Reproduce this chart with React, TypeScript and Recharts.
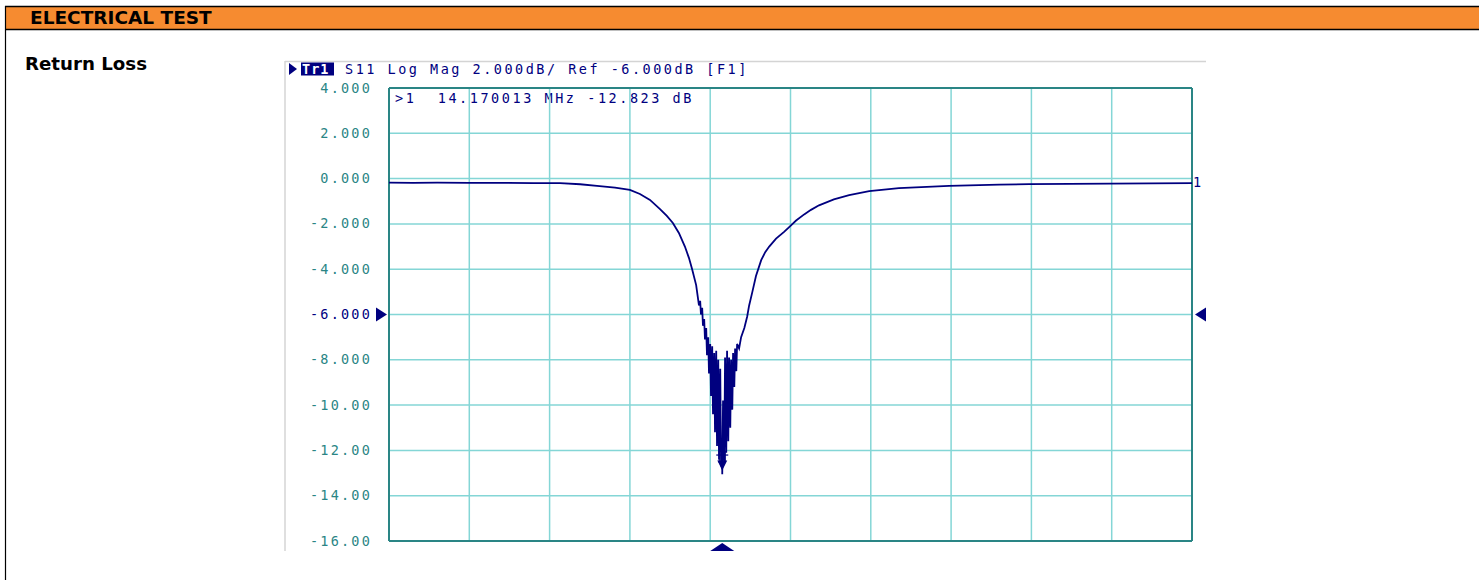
import React from "react";
import { LineChart, Line, XAxis, YAxis, CartesianGrid, ReferenceLine, ReferenceDot } from "recharts";

// ---- data ----
const freqMHz = [
  13.340, 13.400, 13.460, 13.540, 13.620, 13.700, 13.766, 13.816, 13.858, 13.903, 13.940, 13.965, 13.990,
  14.015, 14.032, 14.047, 14.062, 14.077, 14.087, 14.095, 14.105,
  14.112, 14.115, 14.117, 14.120, 14.122, 14.125, 14.127, 14.130, 14.132, 14.135, 14.137,
  14.140, 14.142, 14.145, 14.147, 14.150, 14.152, 14.155, 14.157, 14.160, 14.162,
  14.165, 14.167, 14.170, 14.170, 14.172, 14.175, 14.177, 14.180, 14.182, 14.185,
  14.187, 14.190, 14.192, 14.195, 14.197, 14.200, 14.202, 14.205, 14.207,
  14.212, 14.217, 14.225, 14.232, 14.237, 14.245, 14.254, 14.267, 14.277, 14.287, 14.304,
  14.324, 14.336, 14.354, 14.374, 14.391, 14.411, 14.448, 14.486, 14.536, 14.610, 14.735, 14.860,
  14.934, 15.136, 15.340,
];
const s11dB = [
  -0.18, -0.19, -0.18, -0.19, -0.19, -0.20, -0.20, -0.25, -0.32, -0.40, -0.50, -0.68, -0.94,
  -1.35, -1.65, -1.96, -2.40, -3.00, -3.50, -4.00, -4.70,
  -5.6, -5.4, -6.0, -5.7, -6.5, -6.2, -7.1, -6.6, -7.8, -7.0, -8.6,
  -7.3, -9.6, -7.4, -10.4, -7.7, -11.2, -7.6, -11.8, -8.0, -12.4,
  -8.4, -12.6, -12.82, -13.05, -9.8, -12.5, -7.9, -12.1, -7.6, -11.6,
  -7.9, -11.0, -8.0, -10.2, -7.7, -9.2, -7.5, -8.5, -7.3,
  -7.5, -7.0, -6.6, -6.1, -5.6, -5.0, -4.3, -3.6, -3.25, -3.0, -2.65,
  -2.35, -2.15, -1.85, -1.58, -1.38, -1.18, -0.92, -0.73, -0.55, -0.42, -0.32, -0.27,
  -0.24, -0.22, -0.20,
];
const yTicks = [4, 2, 0, -2, -4, -6, -8, -10, -12, -14, -16];
const xGridMHz = [13.34, 13.54, 13.74, 13.94, 14.14, 14.34, 14.54, 14.74, 14.94, 15.14, 15.34];
const markerFreqMHz = 14.170013;
const markerDb = -12.823;
const refLevelDb = -6;
const scaleDbPerDiv = 2;

const data = freqMHz.map((f, i) => ({ f, db: s11dB[i] }));

const NAVY = "#00007f";
const TEAL = "#2a8585";
const GRID = "#84d6d6";
const MONO = "'DejaVu Sans Mono', monospace";

const fmt = (v: number) => (Math.abs(v) >= 10 ? v.toFixed(2) : v.toFixed(3));

const YTick = (props: any) => {
  const { x, y, payload } = props;
  const v = payload.value;
  return (
    <text
      x={x - 17}
      y={y}
      dy={4.5}
      textAnchor="end"
      fontFamily={MONO}
      fontSize={13.5}
      style={{ letterSpacing: "2.2px" }}
      fill={v === refLevelDb ? NAVY : TEAL}
    >
      {fmt(v)}
    </text>
  );
};

const LeftRefArrow = (p: any) => (
  <path d={`M ${p.cx - 13} ${p.cy - 7} L ${p.cx - 2} ${p.cy} L ${p.cx - 13} ${p.cy + 7} Z`} fill={NAVY} />
);
const RightRefArrow = (p: any) => (
  <path d={`M ${p.cx + 14} ${p.cy - 7} L ${p.cx + 3} ${p.cy} L ${p.cx + 14} ${p.cy + 7} Z`} fill={NAVY} />
);
const StimArrow = (p: any) => (
  <path d={`M ${p.cx - 12} ${p.cy + 10} L ${p.cx} ${p.cy + 2} L ${p.cx + 12} ${p.cy + 10} Z`} fill={NAVY} />
);
const MarkerGlyph = (p: any) => (
  <g stroke={NAVY} strokeWidth={1.2} fill="none">
    <line x1={p.cx - 6} y1={p.cy - 14} x2={p.cx + 6} y2={p.cy - 14} />
    <line x1={p.cx - 3} y1={p.cy - 18} x2={p.cx - 3} y2={p.cy - 6} />
    <line x1={p.cx + 3} y1={p.cy - 18} x2={p.cx + 3} y2={p.cy - 6} />
    <path d={`M ${p.cx - 4} ${p.cy - 8} L ${p.cx} ${p.cy} L ${p.cx + 4} ${p.cy - 8} Z`} fill={NAVY} />
  </g>
);
const EndLabel = (p: any) => (
  <text x={p.cx + 1} y={p.cy + 4} fontFamily={MONO} fontSize={13.5} fill={NAVY}>1</text>
);

export default function App() {
  const title = `S11 Log Mag ${scaleDbPerDiv.toFixed(3)}dB/ Ref ${refLevelDb.toFixed(3)}dB [F1]`;
  const readout = `>1  ${markerFreqMHz.toFixed(6)} MHz ${markerDb.toFixed(3)} dB`;
  return (
    <div style={{ position: "absolute", left: 0, top: 0, width: 1479, height: 580, background: "#fff", overflow: "hidden" }}>
      <svg width={1479} height={580} style={{ position: "absolute", left: 0, top: 0 }}>
        <rect x={5} y={6} width={1474} height={24} fill="#f68b30" />
        <line x1={5} y1={6.5} x2={1479} y2={6.5} stroke="#000" strokeWidth={1.5} />
        <line x1={5} y1={29.5} x2={1479} y2={29.5} stroke="#000" strokeWidth={1.5} />
        <line x1={5.5} y1={6} x2={5.5} y2={580} stroke="#000" strokeWidth={1.2} />
        <text x={30} y={24} fontFamily="'DejaVu Sans', sans-serif" fontWeight="bold" fontSize={18.5} fill="#000">ELECTRICAL TEST</text>
        <text x={25} y={69.5} fontFamily="'DejaVu Sans', sans-serif" fontWeight="bold" fontSize={18.2} fill="#000">Return Loss</text>
        <line x1={285} y1={61.5} x2={1206} y2={61.5} stroke="#d4d4d4" strokeWidth={1.5} />
        <line x1={285} y1={61} x2={285} y2={551} stroke="#d4d4d4" strokeWidth={1.5} />
        <path d="M 289 63 L 297 69 L 289 75 Z" fill={NAVY} />
        <rect x={301} y={62.5} width={33} height={13} fill={NAVY} />
        <text x={302} y={74} fontFamily={MONO} fontSize={13.5} fontWeight="bold" style={{ letterSpacing: "1px" }} fill="#fff">Tr1</text>
        <text x={345} y={74} fontFamily={MONO} fontSize={13.5} style={{ letterSpacing: "2.5px", whiteSpace: "pre" }} fill={NAVY}>{title}</text>
        <text x={395} y={102.5} fontFamily={MONO} fontSize={13.5} style={{ letterSpacing: "2.55px", whiteSpace: "pre" }} fill={NAVY}>{readout}</text>
      </svg>
      <div style={{ position: "absolute", left: 0, top: 0 }}>
        <LineChart width={1479} height={580} data={data} margin={{ top: 88, right: 287, bottom: 39, left: 309 }}>
          <CartesianGrid stroke={GRID} strokeWidth={1.5} />
          <XAxis dataKey="f" type="number" domain={[13.34, 15.34]} ticks={xGridMHz} hide allowDataOverflow />
          <YAxis
            type="number"
            domain={[-16, 4]}
            ticks={yTicks}
            interval={0}
            width={80}
            axisLine={false}
            tickLine={false}
            tick={<YTick />}
            tickMargin={0}
            tickSize={0}
            allowDataOverflow
          />
          <ReferenceLine x={13.34} stroke={TEAL} strokeWidth={2} />
          <ReferenceLine x={15.34} stroke={TEAL} strokeWidth={2} />
          <ReferenceLine y={4} stroke={TEAL} strokeWidth={2} />
          <ReferenceLine y={-16} stroke={TEAL} strokeWidth={2} />
          <Line type="linear" dataKey="db" stroke={NAVY} strokeWidth={1.8} dot={false} isAnimationActive={false} />
          <ReferenceDot x={13.34} y={refLevelDb} shape={<LeftRefArrow />} />
          <ReferenceDot x={15.34} y={refLevelDb} shape={<RightRefArrow />} />
          <ReferenceDot x={markerFreqMHz} y={-16} shape={<StimArrow />} ifOverflow="visible" />
          <ReferenceDot x={markerFreqMHz} y={markerDb} shape={<MarkerGlyph />} />
          <ReferenceDot x={15.34} y={s11dB[s11dB.length - 1]} shape={<EndLabel />} />
        </LineChart>
      </div>
    </div>
  );
}
